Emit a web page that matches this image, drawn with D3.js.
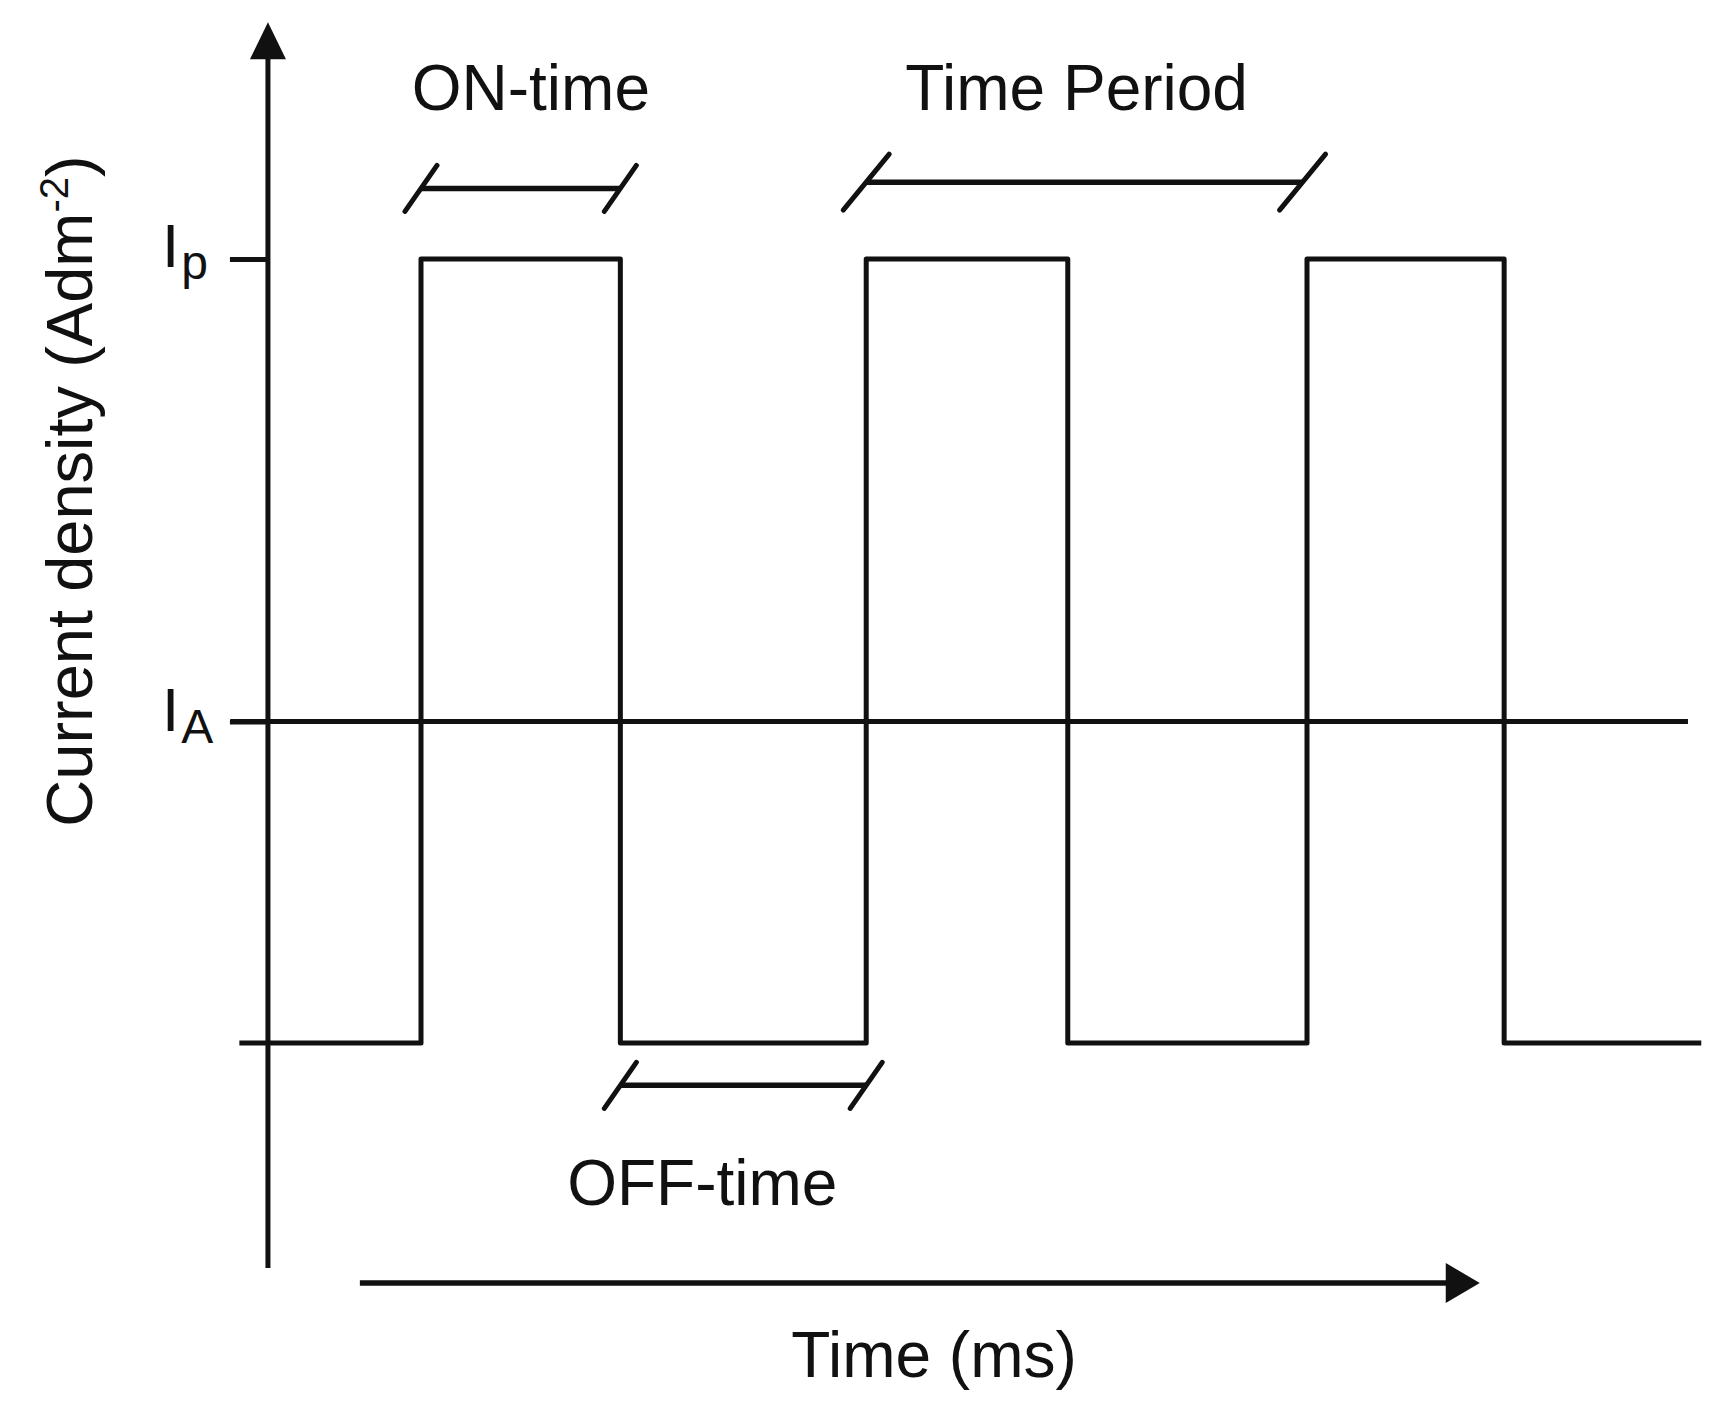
<!DOCTYPE html>
<html>
<head>
<meta charset="utf-8">
<script src="https://cdn.jsdelivr.net/npm/d3@7"></script>
<style>
  html, body { margin: 0; padding: 0; background: #fff; }
  svg text { font-family: "Liberation Sans", Arial, Helvetica, sans-serif; fill: #111; }
</style>
</head>
<body>
<svg id="chart" width="1721" height="1419"></svg>
<script>
  // pulse waveform, time in ms (arbitrary units), level relative to peak
  var waveTimes = [-4.1, 0, 4.5, 10.05, 14.6, 20, 24.45, 28.9];
  var waveLevels = [0, 1, 0, 1, 0, 1, 0, 0];

  // average current line
  var avgLevel = 0.41;
  var avgSpan = [-4.3, 28.6];

  // y tick labels
  var yTickValues = [1, avgLevel];
  var yTickNames = [{ main: 'I', sub: 'p' }, { main: 'I', sub: 'A' }];

  // dimension brackets: [start, end, level]
  var brackets = [
    { name: 'ON-time', from: 0, to: 4.5, level: 1.09, label: 'ON-time', labelLevel: 1.19 },
    { name: 'period', from: 10.05, to: 19.9, level: 1.098, label: 'Time Period', labelLevel: 1.19 },
    { name: 'OFF-time', from: 4.5, to: 10.05, level: -0.054, label: 'OFF-time', labelLevel: -0.206 }
  ];

  var yAxisSpan = [-0.287, 1.302];
  var xAxisSpan = [-1.38, 23.9];

  var svg = d3.select('#chart');
  var ink = '#111';

  var x = d3.scaleLinear().domain([0, 20]).range([421, 1307]);
  var y = d3.scaleLinear().domain([0, 1]).range([1043, 259]);

  // y axis with arrow
  svg.append('line')
    .attr('x1', x(-3.455)).attr('x2', x(-3.455))
    .attr('y1', y(yAxisSpan[0])).attr('y2', y(yAxisSpan[1]) + 30)
    .attr('stroke', ink).attr('stroke-width', 5);
  var ax = x(-3.455), ay = y(yAxisSpan[1]);
  svg.append('path')
    .attr('d', 'M' + ax + ',' + ay + 'L' + (ax + 18) + ',' + (ay + 37) + 'L' + (ax - 18) + ',' + (ay + 37) + 'Z')
    .attr('fill', ink);

  // tick marks via d3 axis
  var yAxis = d3.axisLeft(y).tickValues(yTickValues).tickSize(38).tickFormat('');
  var gy = svg.append('g')
    .attr('transform', 'translate(' + ax + ',0)')
    .call(yAxis);
  gy.select('.domain').remove();
  gy.selectAll('.tick line').attr('stroke', ink).attr('stroke-width', 5);

  // tick labels with subscripts
  yTickValues.forEach(function(v, i) {
    var t = svg.append('text')
      .attr('x', 162)
      .attr('y', y(v) + (i === 0 ? 8 : 9))
      .attr('font-size', 62);
    t.append('tspan').text(yTickNames[i].main);
    t.append('tspan').attr('dy', 12).attr('dx', 2).attr('font-size', 48).text(yTickNames[i].sub);
  });

  // average line
  svg.append('line')
    .attr('x1', x(avgSpan[0])).attr('x2', x(avgSpan[1]))
    .attr('y1', y(avgLevel)).attr('y2', y(avgLevel))
    .attr('stroke', ink).attr('stroke-width', 5);

  // square wave
  var points = waveTimes.map(function(t, i) { return { t: t, v: waveLevels[i] }; });
  var wave = d3.line()
    .x(function(d) { return x(d.t); })
    .y(function(d) { return y(d.v); })
    .curve(d3.curveStepAfter);
  svg.append('path')
    .datum(points)
    .attr('d', wave)
    .attr('fill', 'none')
    .attr('stroke', ink)
    .attr('stroke-width', 5)
    .attr('stroke-linejoin', 'round');

  // brackets
  brackets.forEach(function(b) {
    var g = svg.append('g');
    var x0 = x(b.from), x1 = x(b.to), yy = y(b.level);
    var big = b.name === 'period';
    var dx = big ? 23 : 16, dy = big ? 28 : 23;
    g.append('line')
      .attr('x1', x0).attr('x2', x1).attr('y1', yy).attr('y2', yy)
      .attr('stroke', ink).attr('stroke-width', 5.5);
    [x0, x1].forEach(function(xx) {
      g.append('line')
        .attr('x1', xx - dx).attr('y1', yy + dy)
        .attr('x2', xx + dx).attr('y2', yy - dy)
        .attr('stroke', ink).attr('stroke-width', 5)
        .attr('stroke-linecap', 'round');
    });
    svg.append('text')
      .attr('x', b.name === 'ON-time' ? x(2.48) : b.name === 'period' ? x(14.8) : x(6.35))
      .attr('y', y(b.labelLevel))
      .attr('text-anchor', 'middle')
      .attr('font-size', 64)
      .text(b.label);
  });

  // time axis arrow
  var tx0 = x(xAxisSpan[0]), tx1 = x(xAxisSpan[1]), ty = 1283;
  svg.append('line')
    .attr('x1', tx0).attr('x2', tx1 - 30).attr('y1', ty).attr('y2', ty)
    .attr('stroke', ink).attr('stroke-width', 5.5);
  svg.append('path')
    .attr('d', 'M' + tx1 + ',' + ty + 'L' + (tx1 - 34) + ',' + (ty - 20) + 'L' + (tx1 - 34) + ',' + (ty + 20) + 'Z')
    .attr('fill', ink);

  // axis titles
  svg.append('text')
    .attr('x', 934).attr('y', 1377)
    .attr('text-anchor', 'middle')
    .attr('font-size', 64)
    .text('Time (ms)');

  var yl = svg.append('text')
    .attr('transform', 'translate(92,491) rotate(-90)')
    .attr('text-anchor', 'middle')
    .attr('font-size', 65);
  yl.append('tspan').text('Current density (Adm');
  yl.append('tspan').attr('dy', -24).attr('font-size', 40).text('-2');
  yl.append('tspan').attr('dy', 24).text(')');
</script>
</body>
</html>
